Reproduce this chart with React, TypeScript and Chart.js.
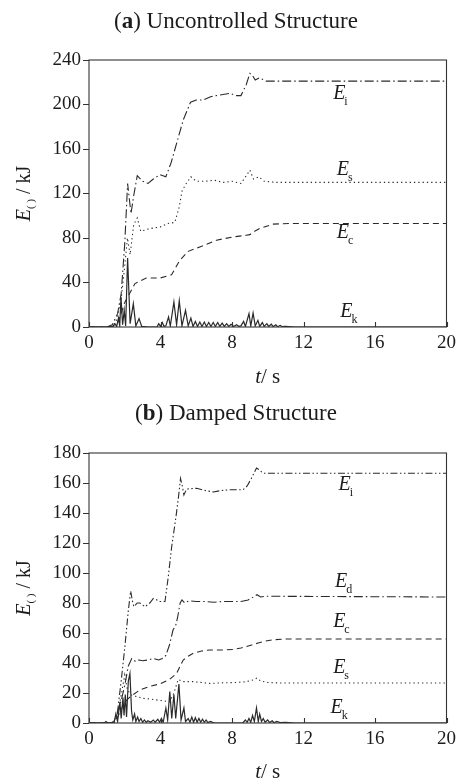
import React, { useEffect, useRef } from "react";
import { Chart, registerables } from "chart.js";

Chart.register(...registerables);

type Pt = [number, number];

// ---------- (a) Uncontrolled Structure ----------
const xTicksMax = 20;
const xStep = 4;
const uncYMax = 240;
const uncYStep = 40;

const uncEi: Pt[] = [
  [0, 0], [1.0, 0], [1.3, 2], [1.6, 12], [1.8, 30], [2.0, 75], [2.16, 129], [2.35, 102], [2.5, 118],
  [2.7, 136], [3.0, 131], [3.3, 129], [3.6, 133], [3.97, 137], [4.3, 135], [4.6, 148], [4.9, 165],
  [5.27, 186], [5.5, 195], [5.68, 202], [6.0, 204], [6.4, 204], [6.8, 207], [7.1, 208], [7.5, 209],
  [7.9, 210], [8.2, 208], [8.5, 208], [8.8, 218], [9.0, 228], [9.15, 226], [9.3, 222], [9.55, 224],
  [9.9, 221], [20, 221],
];
const uncEs: Pt[] = [
  [0, 0], [1.2, 0], [1.5, 4], [1.8, 25], [2.0, 55], [2.15, 80], [2.3, 65], [2.5, 92], [2.7, 98],
  [2.9, 86], [3.3, 88], [3.6, 89], [4.0, 90], [4.4, 93], [4.8, 94], [5.05, 108], [5.2, 122], [5.4, 128],
  [5.7, 135], [6.0, 131], [6.5, 131], [7.0, 132], [7.5, 130], [8.0, 131], [8.5, 129], [8.8, 136],
  [9.0, 141], [9.2, 133], [9.5, 135], [9.8, 131], [10.5, 130], [20, 130],
];
const uncEc: Pt[] = [
  [0, 0], [1.3, 0], [1.6, 4], [1.8, 12], [2.0, 22], [2.2, 28], [2.57, 39], [3.2, 44], [3.97, 44],
  [4.62, 47], [5.08, 60], [5.55, 68], [6.2, 72], [7.13, 78], [8.06, 81], [8.8, 82.5], [9.0, 83],
  [9.27, 86], [9.55, 88.5], [10.3, 92.5], [11.2, 93], [20, 93],
];
const uncEk: Pt[] = [
  [0, 0], [1.0, 0], [1.2, 0.5], [1.3, 0], [1.45, 3], [1.55, 0.5], [1.65, 8], [1.72, 1], [1.79, 27],
  [1.88, 2], [1.97, 15], [2.05, 1], [2.16, 62], [2.3, 3], [2.48, 21], [2.62, 1], [2.8, 7.5], [2.95, 0.5],
  [3.3, 0], [3.8, 0], [3.9, 3], [4.0, 0.5], [4.1, 4], [4.2, 0.5], [4.3, 1], [4.45, 9], [4.55, 1],
  [4.75, 22.5], [4.9, 2], [5.05, 23.5], [5.2, 1], [5.4, 15], [5.55, 1], [5.7, 8], [5.82, 0.5], [5.95, 5],
  [6.07, 0.5], [6.2, 4.5], [6.32, 0.5], [6.45, 4.5], [6.57, 0.5], [6.7, 4], [6.82, 0.5], [6.95, 4],
  [7.07, 0.5], [7.2, 4], [7.32, 0.5], [7.45, 3.5], [7.57, 0.5], [7.7, 3], [7.82, 0.5], [7.95, 2.5],
  [8.1, 0.5], [8.25, 2], [8.4, 0.5], [8.5, 1], [8.65, 5], [8.75, 0.5], [8.95, 12], [9.05, 1],
  [9.18, 12.5], [9.3, 1], [9.45, 6], [9.55, 0.5], [9.7, 4], [9.8, 0.5], [9.95, 3], [10.05, 0.5],
  [10.2, 2.5], [10.3, 0.3], [10.45, 2], [10.55, 0.3], [10.7, 1.5], [10.8, 0.3], [11.0, 0.5], [11.5, 0],
  [20, 0],
];

// ---------- (b) Damped Structure ----------
const dmpYMax = 180;
const dmpYStep = 20;

const dmpEi: Pt[] = [
  [0, 0], [1.2, 0], [1.4, 1], [1.6, 8], [1.8, 28], [2.0, 50], [2.2, 75], [2.33, 88], [2.45, 80],
  [2.51, 77.5], [2.7, 80], [2.85, 80], [3.13, 77.5], [3.4, 80], [3.6, 83], [3.8, 82], [3.97, 81],
  [4.25, 81], [4.43, 97], [4.62, 117], [4.86, 137], [5.0, 150], [5.12, 163], [5.22, 158], [5.31, 152],
  [5.46, 156], [6.02, 156.5], [6.5, 155], [6.95, 154], [7.4, 155], [7.88, 155.5], [8.62, 155.5],
  [8.85, 158], [9.08, 163], [9.25, 167], [9.37, 170], [9.5, 169], [9.74, 166.5], [20, 166.5],
];
const dmpEd: Pt[] = [
  [0, 0], [1.3, 0], [1.5, 3], [1.8, 15], [2.0, 25], [2.2, 38], [2.39, 43], [2.6, 41], [2.8, 42],
  [3.0, 41.5], [3.3, 42], [3.6, 43], [3.9, 42], [4.1, 43], [4.3, 45], [4.5, 52], [4.7, 62], [4.85, 65],
  [4.95, 70], [5.1, 80], [5.2, 82], [5.35, 80], [5.6, 81.5], [6.0, 81], [6.5, 81], [7.0, 80.5],
  [7.5, 81], [8.0, 81], [8.5, 81], [8.9, 82], [9.2, 84], [9.4, 85.5], [9.6, 84], [9.9, 84.5], [20, 84],
];
const dmpEc: Pt[] = [
  [0, 0], [1.4, 0], [1.6, 4], [1.8, 9], [2.0, 14], [2.3, 17.5], [2.85, 22], [3.4, 24.5], [3.97, 26],
  [4.5, 29], [4.9, 33], [5.1, 38], [5.27, 42], [5.55, 44.5], [5.83, 46.5], [6.3, 48], [6.76, 48.7],
  [7.5, 48.7], [8.06, 49], [8.5, 50], [8.8, 51], [9.1, 52], [9.46, 53.3], [9.8, 54.5], [10.3, 55.5],
  [11, 56], [20, 56],
];
const dmpEs: Pt[] = [
  [0, 0], [1.3, 0], [1.5, 3], [1.7, 12], [1.85, 22], [2.0, 32], [2.15, 22], [2.4, 18.5], [3.0, 16.5],
  [3.4, 16], [4.0, 15], [4.52, 14.2], [4.75, 20], [4.99, 29], [5.27, 27.6], [5.8, 27.6], [6.3, 27],
  [6.76, 26.4], [7.5, 26.8], [8.2, 27], [8.8, 27.5], [9.18, 28.7], [9.4, 30], [9.6, 28], [10.0, 27],
  [10.6, 26.7], [20, 26.7],
];
const dmpEk: Pt[] = [
  [0, 0], [0.85, 0], [0.95, 1], [1.05, 0], [1.4, 0], [1.5, 6], [1.6, 1], [1.73, 14], [1.8, 3], [1.9, 17],
  [1.96, 5], [2.03, 19], [2.1, 4], [2.2, 28], [2.29, 33], [2.38, 8], [2.45, 2], [2.55, 6], [2.62, 1],
  [2.72, 4], [2.8, 1], [2.9, 3], [3.0, 0.5], [3.1, 2], [3.2, 0.5], [3.3, 1.5], [3.45, 0.5], [3.6, 2],
  [3.7, 0.5], [3.85, 2.5], [3.95, 0.5], [4.05, 3], [4.15, 0.5], [4.3, 10], [4.4, 2], [4.52, 21],
  [4.63, 3], [4.75, 19], [4.85, 3], [5.03, 26], [5.15, 2], [5.31, 10], [5.4, 1], [5.55, 3], [5.65, 0.5],
  [5.75, 4], [5.85, 0.5], [5.95, 3.5], [6.05, 0.5], [6.15, 3], [6.25, 0.5], [6.35, 2.5], [6.45, 0.5],
  [6.55, 2], [6.65, 0.3], [6.8, 1], [7.0, 0], [8.6, 0], [8.75, 2], [8.85, 0.5], [8.95, 3], [9.05, 0.5],
  [9.15, 5], [9.25, 1], [9.37, 10], [9.47, 1], [9.55, 6], [9.65, 1], [9.75, 3], [9.85, 0.5], [10.0, 2],
  [10.1, 0.3], [10.25, 1.5], [10.35, 0.2], [10.5, 1], [10.7, 0.3], [11, 0.5], [11.5, 0], [20, 0],
];

// series labels: [subscript, t, value]
const uncLabels: [string, number, number][] = [
  ["i", 14.0, 210], ["s", 14.2, 141], ["c", 14.2, 85], ["k", 14.4, 13.5],
];
const dmpLabels: [string, number, number][] = [
  ["i", 14.3, 158.7], ["d", 14.1, 94], ["c", 14.0, 67.3], ["s", 14.0, 36.7], ["k", 13.85, 10],
];

const SERIF = "'Liberation Serif', 'Times New Roman', serif";
const INK = "#1c1c1c";
const LINE = "#2a2a2a";

const DASH_DOT = [9, 3, 1.5, 3];
const DASH_DOT_DOT = [7, 2.5, 1.5, 2.5, 1.5, 2.5];
const DOTTED = [1.3, 3];
const DASHED = [6, 4];

type Run = { text: string; font: string; dy: number };

function drawRuns(ctx: CanvasRenderingContext2D, runs: Run[], cx: number, cy: number) {
  let total = 0;
  const widths = runs.map((r) => {
    ctx.font = r.font;
    const w = ctx.measureText(r.text).width;
    total += w;
    return w;
  });
  let x = cx - total / 2;
  runs.forEach((r, i) => {
    ctx.font = r.font;
    ctx.fillText(r.text, x, cy + r.dy);
    x += widths[i];
  });
}

function makeDecor(letter: string, titleRest: string, labels: [string, number, number][], titleY: number, xTitleY: number) {
  return {
    id: "decor" + letter,
    afterDatasetsDraw(chart: any) {
      const { ctx, chartArea: a, scales } = chart;
      ctx.save();
      ctx.strokeStyle = "#333";
      ctx.lineWidth = 1.1;
      ctx.setLineDash([]);
      ctx.strokeRect(a.left, a.top, a.right - a.left, a.bottom - a.top);
      // inward x ticks
      scales.x.ticks.forEach((t: any) => {
        const px = Math.round(scales.x.getPixelForValue(t.value)) + 0.5;
        ctx.beginPath();
        ctx.moveTo(px, a.bottom);
        ctx.lineTo(px, a.bottom - 5);
        ctx.stroke();
      });
      ctx.restore();
    },
    afterDraw(chart: any) {
      const { ctx, chartArea: a, scales } = chart;
      ctx.save();
      ctx.fillStyle = INK;
      ctx.textBaseline = "middle";
      // title
      drawRuns(ctx, [
        { text: "(", font: `23px ${SERIF}`, dy: 0 },
        { text: letter, font: `bold 23px ${SERIF}`, dy: 0 },
        { text: ") " + titleRest, font: `23px ${SERIF}`, dy: 0 },
      ], 236, titleY);
      // x title
      drawRuns(ctx, [
        { text: "t", font: `italic 21px ${SERIF}`, dy: 0 },
        { text: "/ s", font: `21px ${SERIF}`, dy: 0 },
      ], (a.left + a.right) / 2, xTitleY);
      // y title (rotated)
      ctx.save();
      ctx.translate(25, (a.top + a.bottom) / 2);
      ctx.rotate(-Math.PI / 2);
      drawRuns(ctx, [
        { text: "E", font: `italic 20px ${SERIF}`, dy: 0 },
        { text: "( )", font: `11px ${SERIF}`, dy: 6 },
        { text: " / kJ", font: `20px ${SERIF}`, dy: 0 },
      ], 0, 0);
      ctx.restore();
      // series labels
      labels.forEach(([sub, t, v]) => {
        const px = scales.x.getPixelForValue(t);
        const py = scales.y.getPixelForValue(v);
        ctx.font = `italic 20px ${SERIF}`;
        const w = ctx.measureText("E").width;
        ctx.textAlign = "center";
        ctx.fillText("E", px, py);
        ctx.textAlign = "left";
        ctx.font = `12px ${SERIF}`;
        ctx.fillText(sub, px + w / 2 - 1, py + 8);
      });
      ctx.restore();
    },
  };
}

function ds(data: Pt[], dash: number[], width = 1.1) {
  return {
    data: data.map(([x, y]) => ({ x, y })),
    borderColor: LINE,
    borderWidth: width,
    borderDash: dash,
    pointRadius: 0,
    tension: 0,
    fill: false,
  };
}

function makeConfig(
  datasets: any[],
  yMax: number,
  yStep: number,
  height: number,
  top: number,
  bottom: number,
  plugin: any
) {
  const tickFont = { family: SERIF, size: 19 };
  return {
    type: "line" as const,
    data: { datasets },
    options: {
      animation: false,
      responsive: false,
      events: [],
      layout: { padding: { top, right: 14, left: 0, bottom: 0 } },
      plugins: { legend: { display: false }, tooltip: { enabled: false }, title: { display: false } },
      scales: {
        x: {
          type: "linear",
          min: 0,
          max: xTicksMax,
          ticks: { stepSize: xStep, font: tickFont, color: INK, padding: 5, maxRotation: 0 },
          grid: { display: false, drawTicks: false },
          border: { display: false },
          afterFit: (s: any) => {
            s.height = height - bottom;
          },
        },
        y: {
          type: "linear",
          min: 0,
          max: yMax,
          ticks: { stepSize: yStep, font: tickFont, color: INK, padding: 2 },
          grid: { drawOnChartArea: false, drawTicks: true, tickLength: 6, color: "#333", lineWidth: 1 },
          border: { display: false },
          afterFit: (s: any) => {
            s.width = 89;
          },
        },
      },
    },
    plugins: [plugin],
  };
}

export default function App() {
  const r1 = useRef<HTMLCanvasElement>(null);
  const r2 = useRef<HTMLCanvasElement>(null);

  useEffect(() => {
    document.body.style.margin = "0";
    const c1 = new Chart(
      r1.current as HTMLCanvasElement,
      makeConfig(
        [ds(uncEi, DASH_DOT), ds(uncEs, DOTTED), ds(uncEc, DASHED), ds(uncEk, [], 1.2)],
        uncYMax,
        uncYStep,
        395,
        60,
        327,
        makeDecor("a", "Uncontrolled Structure", uncLabels, 22, 377)
      ) as any
    );
    const c2 = new Chart(
      r2.current as HTMLCanvasElement,
      makeConfig(
        [
          ds(dmpEi, DASH_DOT_DOT),
          ds(dmpEd, DASH_DOT),
          ds(dmpEc, DASHED),
          ds(dmpEs, DOTTED),
          ds(dmpEk, [], 1.2),
        ],
        dmpYMax,
        dmpYStep,
        386,
        58,
        328,
        makeDecor("b", "Damped Structure", dmpLabels, 19, 377)
      ) as any
    );
    return () => {
      c1.destroy();
      c2.destroy();
    };
  }, []);

  return (
    <div style={{ position: "relative", width: 461, height: 781, background: "#fff" }}>
      <canvas ref={r1} width={461} height={395} style={{ position: "absolute", left: 0, top: 0, display: "block" }} />
      <canvas ref={r2} width={461} height={386} style={{ position: "absolute", left: 0, top: 395, display: "block" }} />
    </div>
  );
}
